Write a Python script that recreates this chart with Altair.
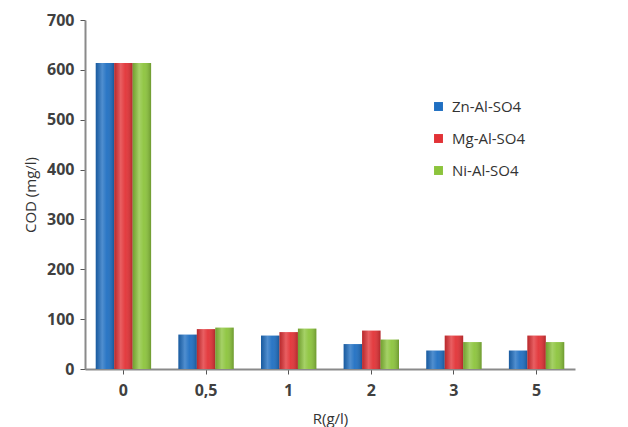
import altair as alt
import pandas as pd

categories = ["0", "0,5", "1", "2", "3", "5"]
series = ["Zn-Al-SO4", "Mg-Al-SO4", "Ni-Al-SO4"]
zn = [614, 69, 67, 50, 37, 37]
mg = [614, 80, 74, 77, 67, 67]
ni = [614, 83, 81, 59, 54, 54]
colors = ["#1f6fc2", "#e23236", "#8cc43c"]

rows = []
for s, vals in zip(series, [zn, mg, ni]):
    for c, v in zip(categories, vals):
        rows.append({"R": c, "Series": s, "COD": v})
df = pd.DataFrame(rows)

FONT = "Open Sans"

x_enc = alt.X("R:N", sort=categories, title="R(g/l)",
              scale=alt.Scale(paddingInner=0.33, paddingOuter=0.13),
              axis=alt.Axis(labelAngle=0, labelFontSize=16, labelFontWeight="bold",
                            labelColor="#404040", titleFontSize=15, titleFontWeight="normal",
                            titleColor="#333333", titlePadding=13, labelPadding=8,
                            domainColor="#8a8a8a", domainWidth=2, tickColor="#555555",
                            tickSize=5, labelFont=FONT, titleFont=FONT))
y_enc = alt.Y("COD:Q", title="COD (mg/l)",
              scale=alt.Scale(domain=[0, 700]),
              axis=alt.Axis(values=[0, 100, 200, 300, 400, 500, 600, 700], grid=False,
                            labelFontSize=16, labelFontWeight="bold", labelColor="#404040",
                            titleFontSize=15, titleFontWeight="normal", titleColor="#333333",
                            titlePadding=8, domainColor="#8a8a8a", domainWidth=2,
                            tickColor="#555555", tickSize=5, labelPadding=6,
                            labelFont=FONT, titleFont=FONT))
xo = alt.XOffset("Series:N", sort=series, scale=alt.Scale(paddingInner=0, paddingOuter=0))

bars = alt.Chart(df).mark_bar().encode(
    x=x_enc, y=y_enc, xOffset=xo,
    color=alt.Color("Series:N", sort=series,
                    scale=alt.Scale(domain=series, range=colors),
                    legend=alt.Legend(title=None, orient="none", legendX=346, legendY=79,
                                      labelFontSize=15, labelColor="#333333", labelFont=FONT,
                                      symbolType="square", symbolSize=80, symbolStrokeWidth=0,
                                      rowPadding=16, labelOffset=6)),
)

shade = alt.Chart(df).mark_bar(
    color=alt.Gradient(
        gradient="linear", x1=0, x2=1, y1=0, y2=0,
        stops=[alt.GradientStop(offset=0, color="rgba(0,0,0,0.18)"),
               alt.GradientStop(offset=0.35, color="rgba(255,255,255,0.22)"),
               alt.GradientStop(offset=0.6, color="rgba(255,255,255,0.05)"),
               alt.GradientStop(offset=1, color="rgba(0,0,0,0.22)")])
).encode(x=alt.X("R:N", sort=categories), y=alt.Y("COD:Q"), xOffset=xo)

chart = alt.layer(bars, shade).properties(
    width=490, height=349,
    padding={"left": 85, "top": 20, "right": 53, "bottom": 58},
    autosize=alt.AutoSizeParams(type="none"),
    background="white",
).configure_view(stroke=None)

chart.save("out.html", embed_options={"renderer": "svg", "actions": False})
